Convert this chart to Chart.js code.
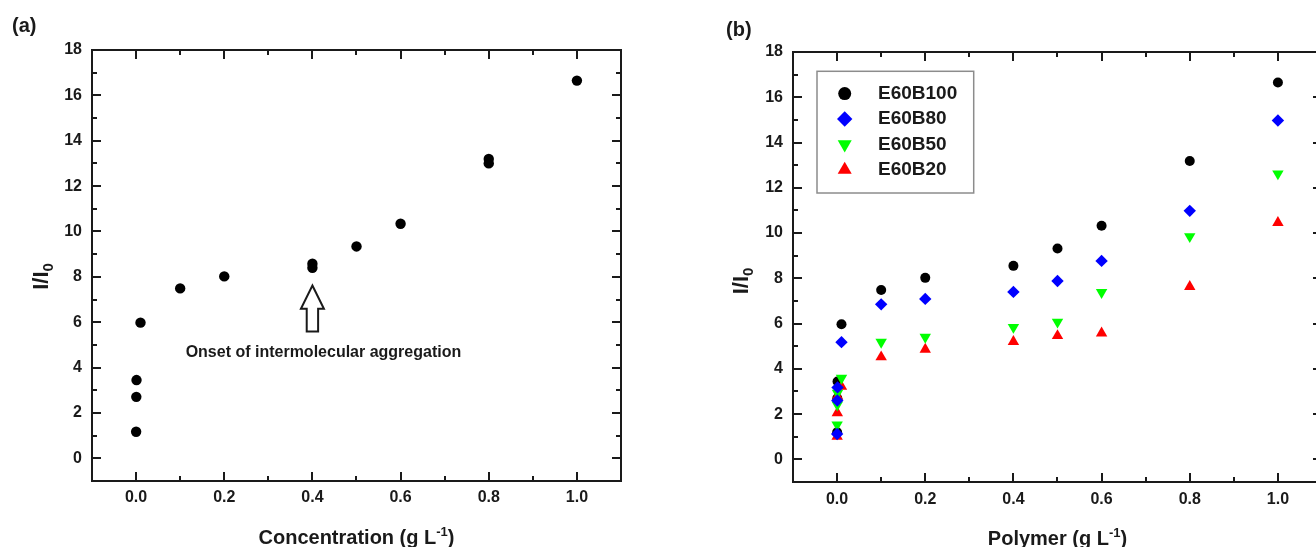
<!DOCTYPE html>
<html>
<head>
<meta charset="utf-8">
<title>I/I0 vs concentration</title>
<script src="https://cdn.jsdelivr.net/npm/chart.js@4.4.0/dist/chart.umd.min.js"></script>
<style>
  html, body { margin: 0; padding: 0; background: #fff; overflow: hidden; }
  body { width: 1316px; height: 547px; position: relative; }
  .panel { position: absolute; top: 0; }
  #panel-a { left: 0; }
  #panel-b { left: 660px; }
</style>
</head>
<body>
<div class="panel" id="panel-a"><canvas id="chart-a" width="660" height="547"></canvas></div>
<div class="panel" id="panel-b"><canvas id="chart-b" width="680" height="547"></canvas></div>
<script>
// (a) I/I0 against concentration
const concX = [0.0001, 0.0005, 0.001, 0.01, 0.1, 0.2, 0.4, 0.4, 0.5, 0.6, 0.8, 0.8, 1.0];
const concY = [1.17, 2.71, 3.45, 5.98, 7.49, 8.02, 8.58, 8.40, 9.34, 10.34, 13.2, 13.0, 16.65];

// (b) I/I0 against polymer concentration, four polymers
const polymerX = [0.0001, 0.0005, 0.001, 0.01, 0.1, 0.2, 0.4, 0.5, 0.6, 0.8, 1.0];
const e60b100 = [1.2, 2.7, 3.44, 5.97, 7.48, 8.02, 8.55, 9.32, 10.32, 13.18, 16.65];
const e60b80 = [1.12, 2.6, 3.18, 5.18, 6.85, 7.09, 7.4, 7.88, 8.77, 10.98, 14.97];
const e60b50 = [1.53, 2.41, 2.93, 3.59, 5.18, 5.4, 5.84, 6.07, 7.38, 9.85, 12.62];
const e60b20 = [1.01, 2.05, 2.78, 3.22, 4.52, 4.86, 5.2, 5.46, 5.58, 7.63, 10.46];
const seriesLabels = ['E60B100', 'E60B80', 'E60B50', 'E60B20'];

// axes
const xTicks = [0, 0.2, 0.4, 0.6, 0.8, 1.0];
const xTickLabels = ['0.0', '0.2', '0.4', '0.6', '0.8', '1.0'];
const yTicks = [0, 2, 4, 6, 8, 10, 12, 14, 16, 18];
const yTickLabels = ['0', '2', '4', '6', '8', '10', '12', '14', '16', '18'];

const FONT = '"Liberation Sans", Arial, sans-serif';
const INK = '#1a1a1a';

function toPoints(xs, ys) {
  return xs.map((x, i) => ({x: x, y: ys[i]}));
}

function midpoints(arr) {
  const out = [];
  for (let i = 1; i < arr.length; i++) out.push((arr[i - 1] + arr[i]) / 2);
  return out;
}

// text with an optional raised / lowered part, centred on x
function richWidth(ctx, parts) {
  let w = 0;
  parts.forEach(p => { ctx.font = p.font; w += ctx.measureText(p.t).width; });
  return w;
}
function drawRich(ctx, parts, x, y) {
  let cx = x - richWidth(ctx, parts) / 2;
  parts.forEach(p => {
    ctx.font = p.font;
    ctx.fillText(p.t, cx, y + (p.dy || 0));
    cx += ctx.measureText(p.t).width;
  });
}

// frame with inward ticks on all four sides, plus panel letter and axis titles
const framePlugin = {
  id: 'frame',
  afterDraw(chart, args, opts) {
    const {ctx, chartArea: a, scales: {x, y}} = chart;
    ctx.save();
    ctx.strokeStyle = INK;
    ctx.lineWidth = 2;
    ctx.beginPath();
    const major = 9, minor = 5;
    const xt = (v, len) => {
      const px = Math.round(x.getPixelForValue(v));
      ctx.moveTo(px, a.bottom); ctx.lineTo(px, a.bottom - len);
      ctx.moveTo(px, a.top); ctx.lineTo(px, a.top + len);
    };
    const yt = (v, len) => {
      const py = Math.round(y.getPixelForValue(v));
      ctx.moveTo(a.left, py); ctx.lineTo(a.left + len, py);
      ctx.moveTo(a.right, py); ctx.lineTo(a.right - len, py);
    };
    xTicks.forEach(v => xt(v, major));
    midpoints(xTicks).forEach(v => xt(v, minor));
    yTicks.forEach(v => yt(v, major));
    midpoints(yTicks).forEach(v => yt(v, minor));
    ctx.stroke();
    ctx.strokeRect(a.left, a.top, a.right - a.left, a.bottom - a.top);

    ctx.fillStyle = INK;
    ctx.textBaseline = 'middle';
    ctx.textAlign = 'left';
    ctx.font = 'bold 20px ' + FONT;
    ctx.fillText(opts.panel, opts.panelX, opts.panelY);

    // x title with superscript
    ctx.textBaseline = 'alphabetic';
    drawRich(ctx, [
      {t: opts.xTitle + ' (g L', font: 'bold 20px ' + FONT},
      {t: '-1', font: 'bold 13px ' + FONT, dy: -8},
      {t: ')', font: 'bold 20px ' + FONT}
    ], (a.left + a.right) / 2, opts.xTitleY);

    // y title I/I0, rotated
    ctx.save();
    ctx.translate(opts.yTitleX, (a.top + a.bottom) / 2 + opts.yTitleShift);
    ctx.rotate(-Math.PI / 2);
    ctx.textBaseline = 'middle';
    drawRich(ctx, [
      {t: 'I/I', font: 'bold 22px ' + FONT},
      {t: '0', font: 'bold 15px ' + FONT, dy: 7}
    ], 0, 0);
    ctx.restore();
    ctx.restore();
  }
};

// hollow arrow and its caption in panel (a)
const notePlugin = {
  id: 'onsetNote',
  afterDatasetsDraw(chart, args, opts) {
    if (!opts.text) return;
    const {ctx, scales: {x, y}} = chart;
    const px = x.getPixelForValue(opts.x);
    const tip = y.getPixelForValue(opts.tipY);
    const head = y.getPixelForValue(opts.headY);
    const base = y.getPixelForValue(opts.baseY);
    const hw = 11.5, sw = 5.7;
    ctx.save();
    ctx.beginPath();
    ctx.moveTo(px, tip);
    ctx.lineTo(px + hw, head);
    ctx.lineTo(px + sw, head);
    ctx.lineTo(px + sw, base);
    ctx.lineTo(px - sw, base);
    ctx.lineTo(px - sw, head);
    ctx.lineTo(px - hw, head);
    ctx.closePath();
    ctx.fillStyle = '#fff';
    ctx.fill();
    ctx.lineWidth = 2;
    ctx.strokeStyle = INK;
    ctx.stroke();
    ctx.fillStyle = INK;
    ctx.font = 'bold 16px ' + FONT;
    ctx.textAlign = 'center';
    ctx.textBaseline = 'middle';
    ctx.fillText(opts.text, x.getPixelForValue(opts.textX), y.getPixelForValue(opts.textY));
    ctx.restore();
  }
};

// boxed legend inside the plot of panel (b)
const insetLegendPlugin = {
  id: 'insetLegend',
  afterDraw(chart, args, opts) {
    if (!opts.show) return;
    const {ctx, chartArea: a} = chart;
    const left = a.left + opts.offsetX, top = a.top + opts.offsetY;
    ctx.save();
    ctx.fillStyle = '#fff';
    ctx.fillRect(left, top, opts.width, opts.height);
    ctx.strokeStyle = '#8c8c8c';
    ctx.lineWidth = 1.5;
    ctx.strokeRect(left, top, opts.width, opts.height);
    chart.data.datasets.forEach((ds, i) => {
      const cy = top + opts.firstRow + i * opts.rowGap;
      ctx.fillStyle = ds.pointBackgroundColor;
      Chart.helpers.drawPoint(ctx, {
        pointStyle: ds.pointStyle,
        radius: ds.pointRadius + 1.5,
        rotation: ds.pointRotation || 0,
        borderWidth: 0
      }, left + opts.markerX, cy);
      ctx.fillStyle = INK;
      ctx.font = 'bold 19px ' + FONT;
      ctx.textAlign = 'left';
      ctx.textBaseline = 'middle';
      ctx.fillText(ds.label, left + opts.textX, cy);
    });
    ctx.restore();
  }
};

function scaleOptions(yWidth, xHeight, xPad) {
  const tickFont = {family: FONT, size: 16, weight: 'bold'};
  return {
    x: {
      type: 'linear',
      min: -0.1,
      max: 1.1,
      grid: {display: false, drawTicks: false},
      border: {display: false},
      afterBuildTicks: axis => { axis.ticks = xTicks.map(v => ({value: v})); },
      afterFit: axis => { axis.height = xHeight; },
      ticks: {
        autoSkip: false,
        maxRotation: 0,
        padding: xPad,
        color: INK,
        font: tickFont,
        callback: (v, i) => xTickLabels[i]
      }
    },
    y: {
      type: 'linear',
      min: -1,
      max: 18,
      grid: {display: false, drawTicks: false},
      border: {display: false},
      afterBuildTicks: axis => { axis.ticks = yTicks.map(v => ({value: v})); },
      afterFit: axis => { axis.width = yWidth; },
      ticks: {
        padding: 10,
        color: INK,
        font: tickFont,
        callback: (v, i) => yTickLabels[i]
      }
    }
  };
}

new Chart(document.getElementById('chart-a'), {
  type: 'scatter',
  data: {
    datasets: [{
      label: 'I/I0',
      data: toPoints(concX, concY),
      pointStyle: 'circle',
      pointRadius: 5.2,
      pointBackgroundColor: '#000',
      pointBorderWidth: 0
    }]
  },
  options: {
    responsive: false,
    animation: false,
    layout: {padding: {left: 0, top: 50, right: 39, bottom: 0}},
    scales: scaleOptions(92, 66, 7),
    plugins: {
      legend: {display: false},
      tooltip: {enabled: false},
      frame: {panel: '(a)', panelX: 12, panelY: 26, xTitle: 'Concentration', xTitleY: 544, yTitleX: 41.5, yTitleShift: 11},
      onsetNote: {x: 0.4, tipY: 7.62, headY: 6.59, baseY: 5.59,
                  text: 'Onset of intermolecular aggregation', textX: 0.425, textY: 4.66}
    }
  },
  plugins: [notePlugin, framePlugin]
});

const seriesValues = [e60b100, e60b80, e60b50, e60b20];
const seriesStyles = [
  {color: '#000000', style: 'circle', radius: 5, rotation: 0, order: 3},
  {color: '#0000ff', style: 'rectRot', radius: 6.2, rotation: 0, order: 0},
  {color: '#00ff00', style: 'triangle', radius: 6.6, rotation: 180, order: 1},
  {color: '#ff0000', style: 'triangle', radius: 6.6, rotation: 0, order: 2}
];

new Chart(document.getElementById('chart-b'), {
  type: 'scatter',
  data: {
    datasets: seriesLabels.map((label, i) => ({
      label: label,
      data: toPoints(polymerX, seriesValues[i]),
      order: seriesStyles[i].order,
      pointStyle: seriesStyles[i].style,
      pointRadius: seriesStyles[i].radius,
      pointRotation: seriesStyles[i].rotation,
      pointBackgroundColor: seriesStyles[i].color,
      pointBorderWidth: 0
    }))
  },
  options: {
    responsive: false,
    animation: false,
    layout: {padding: {left: 0, top: 52, right: 18, bottom: 0}},
    scales: scaleOptions(133, 65, 8),
    plugins: {
      legend: {display: false},
      tooltip: {enabled: false},
      frame: {panel: '(b)', panelX: 66, panelY: 30, xTitle: 'Polymer', xTitleY: 545, yTitleX: 82, yTitleShift: 14},
      insetLegend: {show: true, offsetX: 24, offsetY: 19.3, width: 156.7, height: 121.7,
                    firstRow: 22.3, rowGap: 25.4, markerX: 27.7, textX: 61}
    }
  },
  plugins: [framePlugin, insetLegendPlugin]
});
</script>
</body>
</html>
